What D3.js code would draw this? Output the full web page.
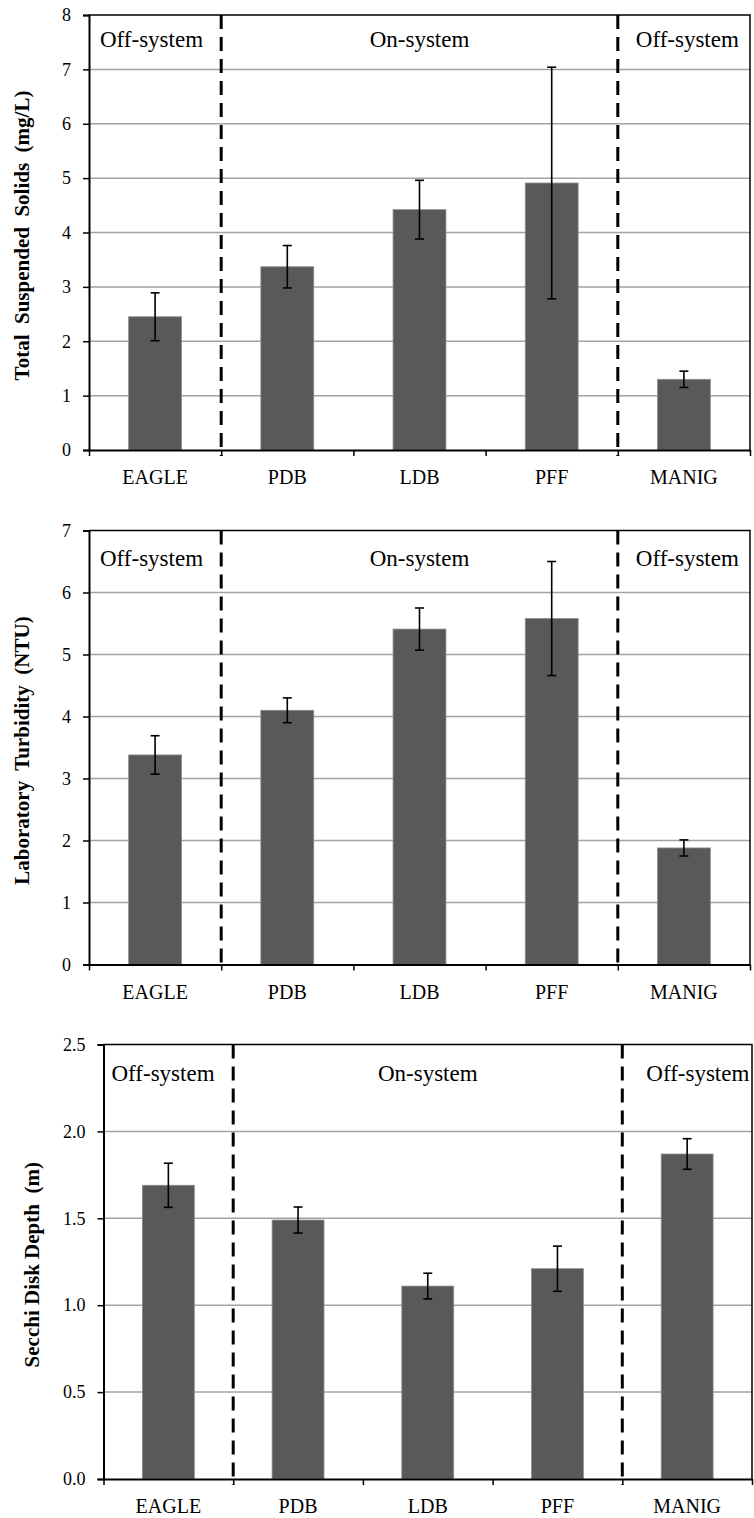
<!DOCTYPE html>
<html>
<head>
<meta charset="utf-8">
<script src="https://cdn.jsdelivr.net/npm/d3@7"></script>
<style>
  html, body { margin: 0; padding: 0; background: #ffffff; }
  svg { display: block; }
  text { font-family: "Liberation Serif", "Times New Roman", serif; fill: #000; }
</style>
</head>
<body>
<svg id="chart" width="754" height="1518"></svg>
<script>
// Sampling stations, left to right
const categories = ["EAGLE", "PDB", "LDB", "PFF", "MANIG"];

// Station groups and the indices after which a group boundary falls
const groupLabels = ["Off-system", "On-system", "Off-system"];
const groupBreaks = [1, 4];

// Total suspended solids (mg/L): mean and error
const tssMean = [2.45, 3.37, 4.42, 4.91, 1.30];
const tssErr  = [0.44, 0.39, 0.54, 2.13, 0.15];
const tssTicks = [0, 1, 2, 3, 4, 5, 6, 7, 8];

// Laboratory turbidity (NTU): mean and error
const turbMean = [3.38, 4.10, 5.41, 5.58, 1.88];
const turbErr  = [0.31, 0.20, 0.34, 0.92, 0.13];
const turbTicks = [0, 1, 2, 3, 4, 5, 6, 7];

// Secchi disk depth (m): mean and error
const secchiMean = [1.69, 1.49, 1.11, 1.21, 1.87];
const secchiErr  = [0.127, 0.075, 0.074, 0.13, 0.088];
const secchiTicks = [0, 0.5, 1.0, 1.5, 2.0, 2.5];

const svg = d3.select("#chart");

const panels = [
  { mean: tssMean, err: tssErr, ticks: tssTicks, fmt: d3.format("d"),
    title: "Total  Suspended  Solids  (mg/L)",
    x0: 89, x1: 750, y0: 15, y1: 450, titleX: 22,
    labelY: 32, leftPad: 11, rightPad: 18 },
  { mean: turbMean, err: turbErr, ticks: turbTicks, fmt: d3.format("d"),
    title: "Laboratory  Turbidity  (NTU)",
    x0: 89, x1: 750, y0: 530.5, y1: 964.5, titleX: 22,
    labelY: 35, leftPad: 11, rightPad: 18 },
  { mean: secchiMean, err: secchiErr, ticks: secchiTicks, fmt: d3.format(".1f"),
    title: "Secchi Disk Depth  (m)",
    x0: 103.5, x1: 752, y0: 1044.5, y1: 1479, titleX: 32,
    labelY: 36, leftPad: 8, rightPad: 24 }
];

panels.forEach(p => drawPanel(p));

function drawPanel(p) {
  const g = svg.append("g");
  const n = categories.length;

  const y = d3.scaleLinear()
    .domain([0, d3.max(p.ticks)])
    .range([p.y1, p.y0]);

  // cell scale (one cell per station) and bar scale inside it
  const cell = d3.scaleLinear().domain([0, n]).range([p.x0, p.x1]);
  const xBar = d3.scaleBand()
    .domain(categories)
    .range([p.x0, p.x1])
    .paddingInner(0.6)
    .paddingOuter(0.3);

  // horizontal gridlines
  g.append("g")
    .selectAll("line")
    .data(p.ticks.filter(t => t > 0 && t < d3.max(p.ticks)))
    .join("line")
    .attr("x1", p.x0).attr("x2", p.x1)
    .attr("y1", d => y(d)).attr("y2", d => y(d))
    .attr("stroke", "#a3a3a3")
    .attr("stroke-width", 1.5);

  // bars
  g.append("g")
    .selectAll("rect")
    .data(categories)
    .join("rect")
    .attr("x", d => xBar(d))
    .attr("width", xBar.bandwidth())
    .attr("y", (d, i) => y(p.mean[i]))
    .attr("height", (d, i) => y(0) - y(p.mean[i]))
    .attr("fill", "#595959")
    .attr("stroke", "#8c8c8c")
    .attr("stroke-width", 0.8);

  // error bars
  const eb = g.append("g")
    .attr("stroke", "#000")
    .attr("stroke-width", 1.6)
    .selectAll("g")
    .data(categories)
    .join("g")
    .attr("transform", d => `translate(${xBar(d) + xBar.bandwidth() / 2},0)`);
  eb.append("line")
    .attr("y1", (d, i) => y(p.mean[i] - p.err[i]))
    .attr("y2", (d, i) => y(p.mean[i] + p.err[i]));
  eb.append("line")
    .attr("x1", -4.5).attr("x2", 4.5)
    .attr("y1", (d, i) => y(p.mean[i] + p.err[i]))
    .attr("y2", (d, i) => y(p.mean[i] + p.err[i]));
  eb.append("line")
    .attr("x1", -4.5).attr("x2", 4.5)
    .attr("y1", (d, i) => y(p.mean[i] - p.err[i]))
    .attr("y2", (d, i) => y(p.mean[i] - p.err[i]));

  // plot frame (top and right)
  g.append("path")
    .attr("d", `M${p.x0},${p.y0}H${p.x1}V${p.y1}`)
    .attr("fill", "none")
    .attr("stroke", "#000")
    .attr("stroke-width", 1.5);

  // y axis
  const yAxis = g.append("g")
    .attr("transform", `translate(${p.x0},0)`)
    .call(d3.axisLeft(y).tickValues(p.ticks).tickFormat(p.fmt).tickSize(6).tickPadding(12));
  yAxis.select(".domain").attr("stroke-width", 2);
  yAxis.selectAll(".tick line").attr("stroke-width", 1.5);
  yAxis.selectAll("text")
    .style("font-family", '"Liberation Serif", "Times New Roman", serif')
    .style("font-size", "18px");

  // x axis: ticks at cell boundaries
  const xAxis = g.append("g")
    .attr("transform", `translate(0,${p.y1})`)
    .call(d3.axisBottom(cell).tickValues(d3.range(n + 1)).tickFormat("").tickSize(6).tickSizeOuter(0));
  xAxis.select(".domain").attr("stroke-width", 2);
  xAxis.selectAll(".tick line").attr("stroke-width", 1.5);

  // station labels
  g.append("g")
    .selectAll("text")
    .data(categories)
    .join("text")
    .attr("x", (d, i) => cell(i + 0.5))
    .attr("y", p.y1 + 34)
    .attr("text-anchor", "middle")
    .style("font-size", "20px")
    .text(d => d);

  // group dividers
  g.append("g")
    .selectAll("line")
    .data(groupBreaks)
    .join("line")
    .attr("x1", d => cell(d)).attr("x2", d => cell(d))
    .attr("y1", p.y0).attr("y2", p.y1 + 6)
    .attr("stroke", "#000")
    .attr("stroke-width", 3)
    .attr("stroke-dasharray", "14,8");

  // group labels
  const labelX = [
    p.x0 + p.leftPad,
    (cell(groupBreaks[0]) + cell(groupBreaks[1])) / 2,
    cell(groupBreaks[1]) + p.rightPad
  ];
  const anchors = ["start", "middle", "start"];
  g.append("g")
    .selectAll("text")
    .data(groupLabels)
    .join("text")
    .attr("x", (d, i) => labelX[i])
    .attr("y", p.y0 + p.labelY)
    .attr("text-anchor", (d, i) => anchors[i])
    .style("font-size", "23px")
    .text(d => d);

  // y axis title
  g.append("text")
    .attr("transform", `translate(${p.titleX},${(p.y0 + p.y1) / 2 + 3}) rotate(-90)`)
    .attr("text-anchor", "middle")
    .attr("dy", "0.35em")
    .style("font-size", "21px")
    .style("font-weight", "bold")
    .style("white-space", "pre")
    .text(p.title);
}
</script>
</body>
</html>
